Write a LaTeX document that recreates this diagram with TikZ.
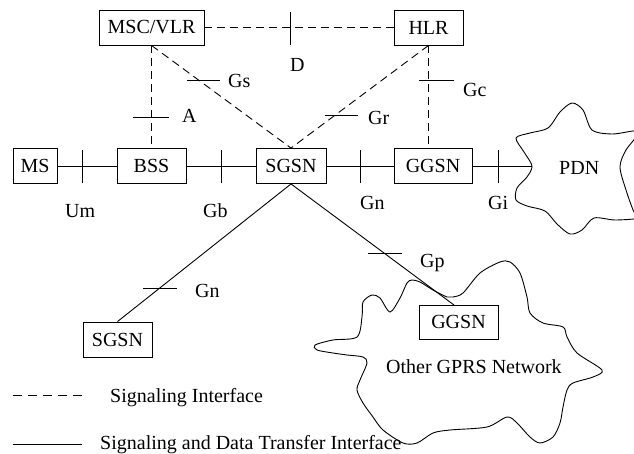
\documentclass[tikz,border=0pt]{standalone}
\usepackage{fontspec}
\setmainfont{Liberation Serif}
\tikzset{
  box/.style={draw, line width=0.9pt, inner sep=0pt, minimum height=35pt, font=\fontsize{20}{24}\selectfont},
  lbl/.style={anchor=base west, inner sep=0pt, font=\fontsize{20}{24}\selectfont},
  sig/.style={line width=0.9pt, dash pattern=on 8pt off 5pt},
  dat/.style={line width=0.9pt},
  tickmark/.style={line width=0.9pt},
  cloud/.style={line width=0.9pt}
}
\begin{document}
\begin{tikzpicture}[x=1pt,y=-1pt]
\clip (0,0) rectangle (634,454);
\fill[white] (0,0) rectangle (634,454);
% boxes
\node[box, minimum width=105pt] (msc) at (151.5,27.5) {MSC/VLR};
\node[box, minimum width=69pt] (hlr) at (428.5,27.5) {HLR};
\node[box, minimum width=44pt] (ms) at (35,166) {MS};
\node[box, minimum width=69pt] (bss) at (151.5,166) {BSS};
\node[box, minimum width=70pt] (sgsn) at (291,166) {SGSN};
\node[box, minimum width=78pt] (ggsn) at (433,166) {GGSN};
\node[box, minimum width=69pt] (sgsnb) at (117.5,339.5) {SGSN};
\node[box, minimum width=79pt, minimum height=34pt] (ggsnb) at (458.5,322) {GGSN};
\coordinate (pdntip) at (532,166);
\coordinate (gpend) at (454,305);
% clouds
\draw[cloud] plot[smooth cycle, tension=0.5] coordinates {
 (532,166) (524,152) (516,138) (530,133) (548,128) (560,112) (572,103) (583,110) (592,130)
 (612,134) (633,131) (640,132) (626,150) (620,167) (626,190) (634,212) (640,218) (615,220) (594,218)
 (582,230) (570,234) (557,224) (545,211) (527,206) (516,200) (517,188) (527,177)};
\draw[cloud] plot[smooth cycle, tension=0.5] coordinates {
 (315,345) (333,340) (357,337) (362,317) (363,302) (372,295) (380,298) (390,312) (400,298)
 (407,283) (412,280) (420,282) (433,290) (447,297) (453,297) (463,293) (480,273) (500,262)
 (510,262) (520,273) (527,297) (530,313) (543,323) (563,327) (567,337) (577,353) (602,370)
 (593,377) (573,383) (567,390) (563,407) (560,423) (553,437) (540,443) (530,437) (517,423)
 (507,417) (487,427) (450,430) (433,433) (417,443) (403,443) (383,430) (373,417) (363,403)
 (357,390) (360,380) (367,363) (363,357) (347,355) (333,353) (317,350)};
% signaling connectors
\draw[sig] (msc.east) -- (hlr.west);
\draw[sig] (msc.south) -- (bss.north);
\draw[sig] (msc.south) -- (sgsn.north);
\draw[sig] (hlr.south) -- (sgsn.north);
\draw[sig] (hlr.south) -- (hlr.south |- ggsn.north);
% data connectors
\draw[dat] (ms.east) -- (bss.west);
\draw[dat] (bss.east) -- (sgsn.west);
\draw[dat] (sgsn.east) -- (ggsn.west);
\draw[dat] (ggsn.east) -- (pdntip);
\draw[dat] (sgsn.south) -- (sgsnb.north);
\draw[dat] (sgsn.south) -- (gpend);
% ticks
\draw[tickmark] (290,12) -- (290,45);
\draw[tickmark] (187,80) -- (220,80);
\draw[tickmark] (133,117) -- (169,117);
\draw[tickmark] (325,115) -- (358,115);
\draw[tickmark] (419,80) -- (454,80);
\draw[tickmark] (82,150) -- (82,183);
\draw[tickmark] (221,150) -- (221,183);
\draw[tickmark] (360,150) -- (360,183);
\draw[tickmark] (498,150) -- (498,183);
\draw[tickmark] (143,288) -- (177,288);
\draw[tickmark] (368,253) -- (402,253);
% labels
\node[lbl] (lD) at (290,72) {D};
\node[lbl] (lGs) at (228,88) {Gs};
\node[lbl] (lA) at (182,123) {A};
\node[lbl] (lGr) at (368,125) {Gr};
\node[lbl] (lGc) at (463,97) {Gc};
\node[lbl] (lUm) at (65,218) {Um};
\node[lbl] (lGb) at (203,218) {Gb};
\node[lbl] (lGn) at (360,210) {Gn};
\node[lbl] (lGi) at (488,210) {Gi};
\node[lbl] (lGn2) at (195,297) {Gn};
\node[lbl] (lGp) at (420,268) {Gp};
\node[lbl] (lPDN) at (559,175) {PDN};
\node[lbl] (lOther) at (386,373) {Other GPRS Network};
% legend
\coordinate (l1a) at (13,395);
\coordinate (l1b) at (82,395);
\coordinate (l2a) at (13,444);
\coordinate (l2b) at (82,444);
\draw[line width=0.9pt, dash pattern=on 9pt off 6pt] (l1a) -- (l1b);
\draw[dat] (l2a) -- (l2b);
\node[lbl] (leg1) at (110,402) {Signaling Interface};
\node[lbl] (leg2) at (100,449) {Signaling and Data Transfer Interface};
\end{tikzpicture}
\end{document}
